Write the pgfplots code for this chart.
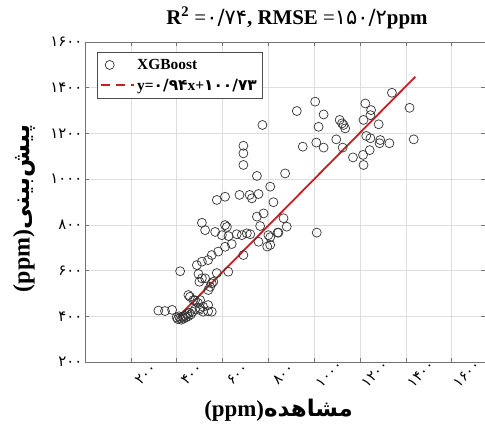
\documentclass[border=0pt]{standalone}
\usepackage{fontspec}
\setmainfont{Liberation Serif}
\newfontfamily\arabicfont[Script=Arabic]{DejaVu Sans}
\TeXXeTstate=1
\usepackage{pgfplots}
\pgfplotsset{compat=1.18}
\definecolor{fitred}{RGB}{200,30,35}
\definecolor{gridgray}{RGB}{222,222,222}
\begin{document}
\begin{tikzpicture}
\useasboundingbox (-85bp,-64bp) rectangle (400bp,362bp);
\begin{axis}[
  at={(0,0)}, anchor=south west,
  scale only axis, width=400bp, height=320bp,
  xmin=0, xmax=1745, ymin=200, ymax=1600,
  xtick={200,400,...,1600}, ytick={200,400,...,1600},
  xticklabels={۲۰۰,۴۰۰,۶۰۰,۸۰۰,۱۰۰۰,۱۲۰۰,۱۴۰۰,۱۶۰۰},
  yticklabels={۲۰۰,۴۰۰,۶۰۰,۸۰۰,۱۰۰۰,۱۲۰۰,۱۴۰۰,۱۶۰۰},
  xticklabel style={font=\arabicfont\fontsize{14.5}{14.5}\selectfont, rotate=45, anchor=center, inner sep=0pt, yshift=-19bp, xshift=2bp},
  yticklabel style={font=\arabicfont\fontsize{15}{15}\selectfont, anchor=east, xshift=1bp},
  grid=major, grid style={gridgray, line width=0.6bp},
  axis line style={black!55, line width=0.7bp},
  major tick length=4bp, tick style={black!55, line width=0.6bp},
  title={\textbf{R\textsuperscript{2}} ={\arabicfont ۰/۷۴}\textbf{, RMSE} ={\arabicfont ۱۵۰/۲}\textbf{ppm}},
  title style={font=\fontsize{21}{23}\selectfont, at={(axis description cs:0.53,1)}, anchor=center, yshift=18bp},
  xlabel={\textbf{(ppm)}{\arabicfont\bfseries\beginR مشاهده\endR}},
  xlabel style={font=\fontsize{23}{25}\selectfont, at={(axis description cs:0.484,0)}, anchor=center, yshift=-48bp},
  ylabel={\textbf{(ppm)}{\arabicfont\bfseries\beginR پیش‌بینی\endR}},
  ylabel style={font=\fontsize{24}{26}\selectfont, at={(axis description cs:-0.152,0.48)}, anchor=center, rotate=0},
  legend style={at={(axis description cs:0.03,0.969)}, anchor=north west, draw=black!70, fill=white,
    font=\bfseries\fontsize{15.5}{18}\selectfont, inner xsep=3bp, inner ysep=5bp, row sep=4bp},
  legend cell align=left,
]
\addplot[only marks, mark=o, mark size=4.5bp, mark options={black!80, line width=0.7bp}] coordinates {
(320,425) (349,423) (380,428) (400,395) (405,388) (410,400) (415,392) (420,385)
(425,398) (430,390) (435,402) (440,395) (445,410) (450,400) (455,415) (462,408)
(470,420) (480,430) (500,428) (515,420) (537,422) (553,420) (502,436) (493,458)
(515,442) (537,449) (451,493) (473,471) (502,471) (458,485) (480,470) (415,597)
(495,585) (510,566) (499,551) (524,566) (553,544) (538,515) (546,529) (560,551)
(575,589) (625,595) (488,624) (510,639) (537,646) (553,668) (581,683) (611,704)
(640,716) (691,668)
(510,809) (524,777) (568,769) (611,799) (619,791) (597,755) (626,751) (662,759)
(684,755) (706,763) (721,759) (764,795) (800,755) (844,766) (808,712) (757,726)
(808,746) (795,705) (575,909) (611,923) (674,931) (718,931) (728,916) (757,935)
(750,836) (779,850) (866,829) (880,792) (822,899) (808,967) (750,1014) (873,1025)
(691,1146) (691,1113) (691,1062) (774,1237) (1011,766) (840,766)
(924,1298) (1004,1339) (1041,1283) (1019,1229) (1111,1259) (1121,1244) (1128,1237)
(1135,1222) (950,1142) (1009,1160) (1041,1138) (1096,1174) (1124,1138) (1223,1331)
(1248,1302) (1245,1280) (1215,1259) (1281,1240) (1227,1189) (1245,1179) (1288,1171)
(1285,1157) (1328,1157) (1242,1127) (1213,1106) (1215,1062) (1169,1095) (1339,1378)
(1416,1312) (1434,1174)
};
\addlegendentry{XGBoost}
\addplot[fitred, line width=1.8bp,
  legend image code/.code={\draw[fitred, line width=2bp, dash pattern=on 9bp off 6bp] (0bp,0bp) -- (33bp,0bp);}]
  coordinates {(407,398) (1441,1448)};
\addlegendentry{y={\arabicfont ۰/۹۴}x+{\arabicfont ۱۰۰/۷۳}}
\end{axis}
\end{tikzpicture}
\end{document}
